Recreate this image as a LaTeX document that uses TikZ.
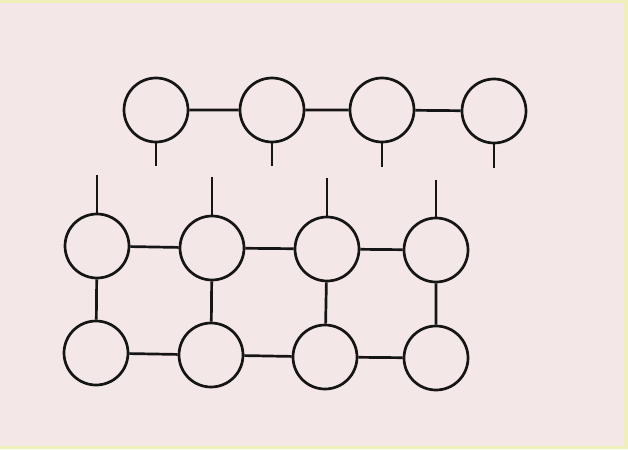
\documentclass[tikz,border=0pt]{standalone}
\definecolor{paper}{HTML}{F4E7E7}
\definecolor{frame}{HTML}{EEF0B8}
\definecolor{ink}{HTML}{151515}
\begin{document}
\begin{tikzpicture}[x=1pt,y=-1pt,
  ball/.style={circle,draw=ink,line width=2.7pt,minimum size=64pt,inner sep=0pt},
  link/.style={draw=ink,line width=2.7pt}]
\fill[frame] (0,0) rectangle (628,449);
\fill[paper] (0,3) rectangle (624,446);
\useasboundingbox (0,0) rectangle (628,449);
% top row
\node[ball] (t1) at (156,110) {};
\node[ball] (t2) at (272,110) {};
\node[ball] (t3) at (382,110) {};
\node[ball] (t4) at (494,111) {};
% middle row
\node[ball] (m1) at (97,246) {};
\node[ball] (m2) at (212,248) {};
\node[ball] (m3) at (327,249) {};
\node[ball] (m4) at (436,250) {};
% bottom row
\node[ball] (b1) at (96,353) {};
\node[ball] (b2) at (211,355) {};
\node[ball] (b3) at (325,357) {};
\node[ball] (b4) at (436,358) {};
% free ends
\coordinate (ts1) at (155,166);
\coordinate (ts2) at (271,166);
\coordinate (ts3) at (380,167);
\coordinate (ts4) at (495,168);
\coordinate (ms1) at (97,175);
\coordinate (ms2) at (213,177);
\coordinate (ms3) at (327,178);
\coordinate (ms4) at (438,180);
% horizontal links
\path[link] (t1) -- (t2) (t2) -- (t3) (t3) -- (t4);
\path[link] (m1) -- (m2) (m2) -- (m3) (m3) -- (m4);
\path[link] (b1) -- (b2) (b2) -- (b3) (b3) -- (b4);
% vertical links
\path[link] (m1) -- (b1) (m2) -- (b2) (m3) -- (b3) (m4) -- (b4);
% stubs
\path[link] (t1.south) -- (t1.south |- ts1) (t2.south) -- (t2.south |- ts2)
  (t3.south) -- (t3.south |- ts3) (t4.south) -- (t4.south |- ts4);
\path[link] (m1.north) -- (m1.north |- ms1) (m2.north) -- (m2.north |- ms2)
  (m3.north) -- (m3.north |- ms3) (m4.north) -- (m4.north |- ms4);
\end{tikzpicture}
\end{document}
